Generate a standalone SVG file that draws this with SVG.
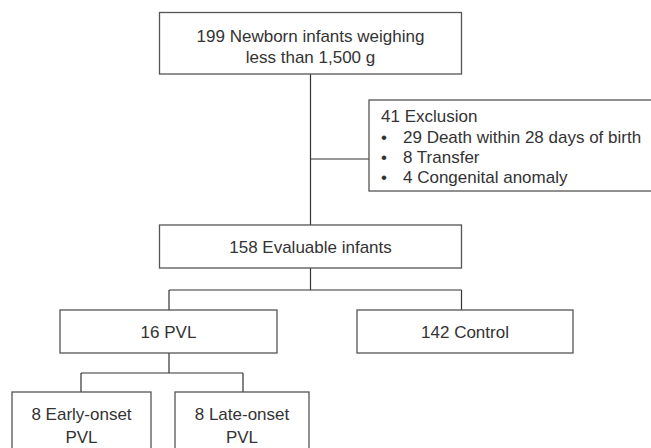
<svg xmlns="http://www.w3.org/2000/svg" width="651" height="448" viewBox="0 0 651 448">
<style>
.box{fill:#fff;stroke:#555;stroke-width:1.3}
.t{font-family:"Liberation Sans",Arial,sans-serif;font-size:17px;fill:#333}
.c{text-anchor:middle}
.ln{fill:none;stroke:#333;stroke-width:1.2}
</style>
<rect width="651" height="448" fill="#fff"/>
<g id="connectors">
<path class="ln" d="M310.5 74V225M310.5 159H369M310.5 268V290M169 290H461.5M169 290V310M461.5 290V310M169 353V373M81 373H243M81 373V392M243 373V392"/>
</g>
<g id="n_newborn">
<rect class="box" x="159.5" y="12.5" width="302" height="61.5"/>
<text class="t c" x="310.5" y="41.5">199 Newborn infants weighing</text>
<text class="t c" x="310.5" y="63">less than 1,500 g</text>
</g>
<g id="n_exclusion">
<rect class="box" x="369" y="100" width="300" height="91"/>
<text class="t" x="381" y="122">41 Exclusion</text>
<text class="t" x="381" y="143">•</text><text class="t" x="403" y="143">29 Death within 28 days of birth</text>
<text class="t" x="381" y="163">•</text><text class="t" x="403" y="163">8 Transfer</text>
<text class="t" x="381" y="183">•</text><text class="t" x="403" y="183">4 Congenital anomaly</text>
</g>
<g id="n_evaluable">
<rect class="box" x="159.5" y="225" width="302" height="43"/>
<text class="t c" x="310.5" y="253">158 Evaluable infants</text>
</g>
<g id="n_pvl">
<rect class="box" x="60" y="310" width="217" height="43"/>
<text class="t c" x="168.5" y="338">16 PVL</text>
</g>
<g id="n_control">
<rect class="box" x="357" y="310" width="216" height="43"/>
<text class="t c" x="465" y="338">142 Control</text>
</g>
<g id="n_early">
<rect class="box" x="12" y="392" width="139" height="70"/>
<text class="t c" x="81.5" y="420">8 Early-onset</text>
<text class="t c" x="81.5" y="443">PVL</text>
</g>
<g id="n_late">
<rect class="box" x="175" y="392" width="134" height="70"/>
<text class="t c" x="242" y="420">8 Late-onset</text>
<text class="t c" x="242" y="443">PVL</text>
</g>
</svg>
